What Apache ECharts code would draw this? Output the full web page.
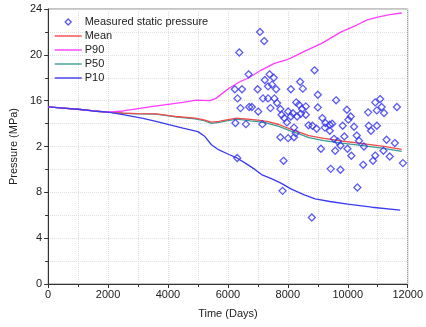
<!DOCTYPE html>
<html><head><meta charset="utf-8">
<script src="https://cdn.jsdelivr.net/npm/echarts@6/dist/echarts.min.js"></script>
<style>html,body{margin:0;padding:0;background:#fff}#c{width:426px;height:327px}</style>
</head><body><div id="c"></div>
<script>
const yTickValues = [0, 4, 8, 12, 16, 20, 24];
const yTickLabels = ['0', '4', '8', '2', '16', '20', '24'];

const meanLine = [[0,15.45],[500,15.35],[1000,15.25],[1500,15.1],[2000,15.0],[2500,14.92],[3000,14.87],[3600,14.85],[4250,14.62],[4900,14.48],[5200,14.33],[5450,14.12],[5700,14.2],[6000,14.35],[6300,14.48],[6500,14.42],[6750,14.36],[7000,14.3],[7300,14.19],[7700,13.92],[8150,13.46],[8400,13.24],[8700,12.95],[9200,12.7],[9800,12.48],[10500,12.25],[11200,12.02],[11800,11.75]];
const p50Line = [[0,15.45],[500,15.35],[1000,15.25],[1500,15.1],[2000,15.0],[2500,14.9],[3000,14.84],[3600,14.82],[4250,14.58],[4900,14.42],[5200,14.26],[5450,14.02],[5700,14.1],[6000,14.25],[6300,14.38],[6500,14.32],[6750,14.24],[7000,14.18],[7300,14.05],[7700,13.76],[8150,13.3],[8400,13.08],[8700,12.78],[9200,12.52],[9800,12.3],[10500,12.08],[11200,11.84],[11800,11.57]];
const p90Line = [[0,15.45],[500,15.35],[1000,15.25],[1500,15.1],[2000,15.0],[2500,15.1],[3000,15.3],[3500,15.5],[4000,15.68],[4500,15.85],[4950,16.05],[5400,16.0],[5600,16.2],[6050,17.1],[6400,17.65],[6700,18.0],[7100,18.65],[7550,19.25],[7950,19.55],[8200,19.85],[8550,20.3],[9130,21.0],[9780,22.0],[10300,22.6],[10650,23.05],[11000,23.3],[11400,23.5],[11800,23.65]];
const p10Line = [[0,15.45],[500,15.35],[1000,15.25],[1500,15.1],[2000,15.0],[2500,14.78],[3165,14.46],[3600,14.2],[4030,13.9],[4500,13.6],[5000,13.3],[5220,12.9],[5450,12.15],[5700,11.7],[6036,11.3],[6300,11.0],[6580,10.55],[6900,10.0],[7120,9.55],[7450,9.2],[7770,8.8],[8100,8.3],[8530,7.8],[8910,7.43],[9400,7.2],[10000,6.97],[10800,6.7],[11750,6.45]];

const measured = [
 [7070,22.0],[7210,21.2],[6380,20.2],[6690,18.3],[6230,17.0],[6470,17.0],[6320,16.2],[6990,17.0],
 [7390,18.3],[7230,17.8],[7530,18.0],[7470,17.4],[7340,17.25],[7610,17.0],[7170,16.2],[7340,16.2],
 [7550,16.2],[8410,17.65],[8100,17.0],[8500,17.05],[6420,15.35],[6710,15.45],[6800,15.45],[7010,15.05],
 [7420,15.35],[7640,15.8],[7750,15.27],[7790,14.77],[8010,15.06],[7880,14.48],[8100,14.62],[8310,14.62],
 [8280,15.85],[8370,15.65],[8475,15.27],[8600,15.5],[8170,14.9],[8600,14.77],[8430,14.86],
 [6250,14.05],[6600,13.95],[7150,13.95],[7970,14.1],[8205,13.65],[8260,13.17],
 [7750,12.8],[8010,12.73],[8205,12.8],[6310,11.0],[7856,10.75],[7824,8.13],
 [8890,18.65],[9000,16.52],[9610,16.03],[9000,15.41],[9970,15.21],[10915,15.85],[11080,16.14],[10970,15.15],
 [11130,15.45],[11210,14.92],[11640,15.45],[10680,14.98],[9150,14.48],[10100,14.62],[10020,14.34],
 [8690,13.85],[8820,13.81],[9255,14.05],[9400,13.9],[9480,13.99],[9236,13.65],[9830,13.81],[10210,13.72],
 [10700,13.81],[10970,13.81],[8960,13.55],[9400,13.37],[10775,13.37],[9540,12.67],[9670,12.44],[9885,12.88],
 [9755,12.09],[10300,12.96],[10375,12.5],[10540,12.0],[11295,12.59],[11570,12.3],[9105,11.8],[9580,11.63],
 [9990,11.8],[10120,11.19],[10915,11.21],[10840,10.75],[11190,11.63],[11400,11.13],[11840,10.55],[10515,10.4],
 [9430,10.05],[9755,9.97],[10320,8.42],[8800,5.8]
];

const seriesNames = ['Measured static pressure', 'Mean', 'P90', 'P50', 'P10'];
const lineColors = {'Mean':'#f04a4a','P90':'#ff3cff','P50':'#3a9e94','P10':'#3b3bee'};
const dotColor = '#3434f0';
const lineIcon = 'path://M0,0L27,0L27,1.4L0,1.4Z';
const diamondIcon = 'path://M0,0M27,8M10.5,4L13.5,1L16.5,4L13.5,7Z';

const chart = echarts.init(document.getElementById('c'), null, {renderer:'canvas'});
const font = "'Liberation Sans', Arial, sans-serif";
function lineSeries(name, data){
  return {name, type:'line', data, showSymbol:false, symbol:'none', smooth:false,
    lineStyle:{color:lineColors[name], width:1.3}, itemStyle:{color:lineColors[name]}, z:2};
}
function legendLine(name){
  return {name, icon:lineIcon, itemStyle:{color:lineColors[name], borderWidth:0}};
}
chart.setOption({
  animation:false,
  textStyle:{fontFamily:font},
  grid:{left:43, right:14, top:9, bottom:43, show:true, borderColor:'#8a8a8a', borderWidth:1, backgroundColor:'transparent'},
  legend:{
    orient:'vertical', left:49, top:10, itemWidth:27, itemHeight:8, itemGap:0,
    textStyle:{fontFamily:font, fontSize:11, color:'#222', lineHeight:14, padding:[0,0,0,-2]},
    data:[
      {name:seriesNames[0], icon:diamondIcon, itemStyle:{color:'rgba(255,255,255,0)', borderColor:dotColor, borderWidth:1.4}},
      legendLine('Mean'), legendLine('P90'), legendLine('P50'), legendLine('P10')
    ]
  },
  xAxis:{
    type:'value', min:0, max:12000, interval:2000,
    name:'Time (Days)', nameLocation:'middle', nameGap:24,
    nameTextStyle:{fontSize:11, color:'#222', fontFamily:font},
    axisLine:{show:true, lineStyle:{color:'#333', width:1}},
    axisTick:{show:true, length:4, lineStyle:{color:'#333'}},
    minorTick:{show:true, splitNumber:2, length:3, lineStyle:{color:'#333'}},
    axisLabel:{fontSize:11, color:'#222', margin:5, fontFamily:font, formatter:function(v){return String(v);}},
    splitLine:{show:true, lineStyle:{color:'#dcdcdc', type:'dotted', width:1}},
    minorSplitLine:{show:true, lineStyle:{color:'#dcdcdc', type:'dotted', width:1}}
  },
  yAxis:{
    type:'value', min:0, max:24, interval:4,
    name:'Pressure (MPa)', nameLocation:'middle', nameGap:26,
    nameTextStyle:{fontSize:11, color:'#222', fontFamily:font},
    axisLine:{show:true, lineStyle:{color:'#333', width:1}},
    axisTick:{show:true, length:4, lineStyle:{color:'#333'}},
    minorTick:{show:true, splitNumber:2, length:3, lineStyle:{color:'#333'}},
    axisLabel:{fontSize:11, color:'#222', margin:6, fontFamily:font,
      formatter:function(v){const i=yTickValues.indexOf(v);return i>=0?yTickLabels[i]:String(v);}},
    splitLine:{show:true, lineStyle:{color:'#dcdcdc', type:'dotted', width:1}},
    minorSplitLine:{show:true, lineStyle:{color:'#dcdcdc', type:'dotted', width:1}}
  },
  series:[
    {name:seriesNames[0], type:'scatter', data:measured, symbol:'diamond', symbolSize:7,
      itemStyle:{color:'rgba(255,255,255,0)', borderColor:dotColor, borderWidth:1.3}, z:3},
    lineSeries('P50', p50Line),
    lineSeries('Mean', meanLine),
    lineSeries('P90', p90Line),
    lineSeries('P10', p10Line)
  ]
});
</script></body></html>
